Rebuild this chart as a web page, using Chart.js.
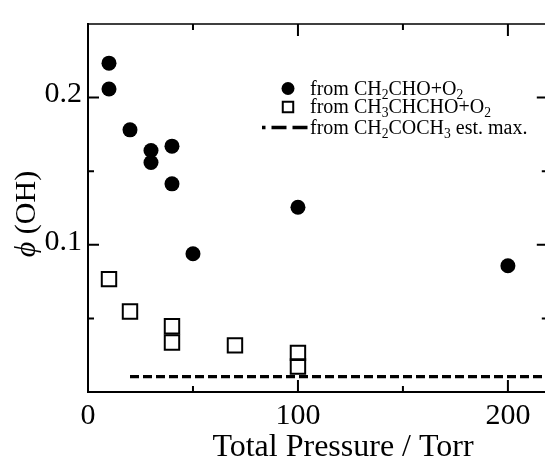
<!DOCTYPE html>
<html>
<head>
<meta charset="utf-8">
<script src="https://cdn.jsdelivr.net/npm/chart.js@4.4.1/dist/chart.umd.min.js"></script>
<style>
  html, body { margin: 0; padding: 0; background: #fff; overflow: hidden; }
  #wrap { width: 545px; height: 460px; overflow: hidden; }
</style>
</head>
<body>
<div id="wrap"><canvas id="chart" width="560" height="460"></canvas></div>
<script>
// phi(OH) yields against total pressure (Torr)
const ch2choPressure = [10, 10, 20, 30, 30, 40, 40, 50, 100, 200];
const ch2choYield = [0.2234, 0.2058, 0.1781, 0.1641, 0.1559, 0.1670, 0.1414, 0.0939, 0.1255, 0.0858];
const ch3chchoPressure = [10, 20, 40, 40, 70, 100, 100];
const ch3chchoYield = [0.0767, 0.0547, 0.0447, 0.0336, 0.0317, 0.0266, 0.0173];
const ch2cochPressure = [20, 220];
const ch2cochYield = [0.0105, 0.0105];

const seriesLabels = ['from CH₂CHO+O₂', 'from CH₃CHCHO+O₂', 'from CH₂COCH₃ est. max.'];
const xTickLabels = [0, 100, 200];
const xMinorTicks = [50, 150];
const yTickLabels = [0.1, 0.2];
const yMinorTicks = [0.05, 0.15];
const xTitle = 'Total Pressure / Torr';
const yTitleSymbol = 'ϕ';
const yTitleRest = ' (OH)';

const FONT = "'Liberation Serif', 'Times New Roman', serif";
const SUBS = '₀₁₂₃₄₅₆₇₈₉';

const toPoints = (xs, ys) => xs.map((x, i) => ({ x, y: ys[i] }));

// text with unicode subscript digits drawn as small lowered digits
function drawRichText(ctx, text, x, y, size) {
  let cx = x;
  let run = '';
  let sub = false;
  const flush = () => {
    if (!run) return;
    ctx.font = (sub ? size * 0.68 : size) + 'px ' + FONT;
    ctx.fillText(run, cx, sub ? y + size * 0.2 : y);
    cx += ctx.measureText(run).width;
    run = '';
  };
  for (const ch of text) {
    const i = SUBS.indexOf(ch);
    const isSub = i >= 0;
    if (isSub !== sub) { flush(); sub = isSub; }
    run += isSub ? String(i) : ch;
  }
  flush();
}

const framePlugin = {
  id: 'frame',
  afterDraw(chart) {
    const { ctx, chartArea: a, scales: { x, y } } = chart;
    ctx.save();
    ctx.strokeStyle = '#000';
    ctx.lineWidth = 2;
    ctx.beginPath();
    ctx.moveTo(a.left, a.top - 1);
    ctx.lineTo(a.left, a.bottom);
    ctx.lineTo(a.right, a.bottom);
    ctx.stroke();
    ctx.lineWidth = 1.5;
    ctx.beginPath();
    ctx.moveTo(a.left, a.top);
    ctx.lineTo(a.right, a.top);
    ctx.lineTo(a.right, a.bottom);
    ctx.stroke();

    // inward ticks on all four sides
    ctx.lineWidth = 2;
    const xt = (vals, len) => vals.forEach(v => {
      const px = x.getPixelForValue(v);
      ctx.beginPath();
      ctx.moveTo(px, a.bottom); ctx.lineTo(px, a.bottom - len);
      ctx.moveTo(px, a.top); ctx.lineTo(px, a.top + len);
      ctx.stroke();
    });
    const yt = (vals, len) => vals.forEach(v => {
      const py = y.getPixelForValue(v);
      ctx.beginPath();
      ctx.moveTo(a.left, py); ctx.lineTo(a.left + len, py);
      ctx.moveTo(a.right, py); ctx.lineTo(a.right - len, py);
      ctx.stroke();
    });
    xt(xTickLabels.filter(v => v > 0), 12);
    xt(xMinorTicks, 6);
    yt(yTickLabels, 11);
    yt(yMinorTicks, 6);

    // axis titles
    ctx.fillStyle = '#000';
    ctx.textBaseline = 'alphabetic';
    ctx.textAlign = 'center';
    ctx.font = '32px ' + FONT;
    ctx.fillText(xTitle, 343, 456);

    ctx.translate(27, 214);
    ctx.rotate(-Math.PI / 2);
    ctx.textAlign = 'left';
    ctx.textBaseline = 'middle';
    ctx.font = 'italic 30px ' + FONT;
    const w1 = ctx.measureText(yTitleSymbol).width;
    ctx.font = '30px ' + FONT;
    const w2 = ctx.measureText(yTitleRest).width;
    const start = -(w1 + w2) / 2;
    ctx.font = 'italic 30px ' + FONT;
    ctx.fillText(yTitleSymbol, start, 0);
    ctx.font = '30px ' + FONT;
    ctx.fillText(yTitleRest, start + w1, 0);
    ctx.restore();
  }
};

const legendPlugin = {
  id: 'innerLegend',
  afterDraw(chart) {
    const { ctx } = chart;
    const rows = [88.5, 107, 127.5];
    const markX = 288;
    const textX = 310;
    ctx.save();
    ctx.fillStyle = '#000';
    ctx.strokeStyle = '#000';
    ctx.textAlign = 'left';
    ctx.textBaseline = 'alphabetic';
    chart.data.datasets.forEach((ds, i) => {
      const cy = rows[i];
      if (ds.showLine) {
        ctx.lineWidth = ds.borderWidth;
        ctx.setLineDash([15, 6]);
        ctx.lineDashOffset = 11.5;
        ctx.beginPath();
        ctx.moveTo(262, cy);
        ctx.lineTo(308, cy);
        ctx.stroke();
        ctx.setLineDash([]);
      } else {
        ctx.fillStyle = ds.backgroundColor;
        ctx.lineWidth = ds.borderWidth;
        Chart.helpers.drawPoint(ctx, {
          pointStyle: ds.pointStyle,
          radius: ds.legendRadius,
          borderWidth: ds.borderWidth,
          rotation: 0
        }, markX, cy);
        ctx.fillStyle = '#000';
      }
      drawRichText(ctx, ds.label, textX, cy + 6, 20);
    });
    ctx.restore();
  }
};

new Chart(document.getElementById('chart'), {
  type: 'scatter',
  data: {
    datasets: [
      {
        label: seriesLabels[0],
        data: toPoints(ch2choPressure, ch2choYield),
        pointStyle: 'circle',
        pointRadius: 7.5,
        backgroundColor: '#000',
        borderColor: '#000',
        borderWidth: 0,
        legendRadius: 6.5
      },
      {
        label: seriesLabels[1],
        data: toPoints(ch3chchoPressure, ch3chchoYield),
        pointStyle: 'rect',
        pointRadius: 10.2,
        backgroundColor: 'rgba(0,0,0,0)',
        borderColor: '#000',
        borderWidth: 2,
        legendRadius: 7.4
      },
      {
        label: seriesLabels[2],
        data: toPoints(ch2cochPressure, ch2cochYield),
        showLine: true,
        pointRadius: 0,
        borderColor: '#000',
        borderWidth: 3.3,
        borderDash: [9, 4]
      }
    ]
  },
  options: {
    responsive: false,
    animation: false,
    devicePixelRatio: 1,
    layout: { padding: { left: 0, top: 13, right: 10, bottom: 0 } },
    plugins: { legend: { display: false }, tooltip: { enabled: false } },
    scales: {
      x: {
        type: 'linear',
        min: 0,
        max: 219,
        grid: { display: false, drawTicks: false },
        border: { display: false },
        afterBuildTicks: s => { s.ticks = xTickLabels.map(value => ({ value })); },
        afterFit: s => { s.height = 68; },
        ticks: {
          padding: 6,
          color: '#000',
          font: { family: FONT, size: 30 },
          callback: v => String(v)
        }
      },
      y: {
        type: 'linear',
        min: 0,
        max: 0.25,
        grid: { display: false, drawTicks: false },
        border: { display: false },
        afterBuildTicks: s => { s.ticks = yTickLabels.map(value => ({ value })); },
        afterFit: s => { s.width = 88; },
        ticks: {
          padding: 6,
          labelOffset: -3,
          color: '#000',
          font: { family: FONT, size: 30 },
          callback: v => v.toFixed(1)
        }
      }
    }
  },
  plugins: [framePlugin, legendPlugin]
});
</script>
</body>
</html>
